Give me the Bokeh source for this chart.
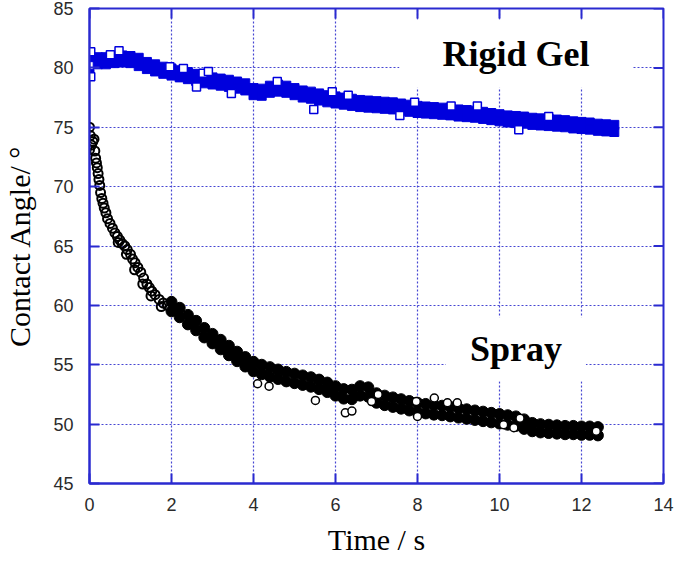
from bokeh.plotting import figure
from bokeh.models import Label, FixedTicker, ColumnDataSource
from bokeh.embed import file_html
from bokeh.resources import INLINE

# ---------------- data ----------------
x_ticks = [0, 2, 4, 6, 8, 10, 12, 14]
y_ticks = [45, 50, 55, 60, 65, 70, 75, 80, 85]

# Rigid Gel: dense band of squares (upper / lower edge of band centres)
gel_t = [0.0, 0.2, 0.4, 0.6, 0.8, 1.0, 1.2, 1.4, 1.6, 1.8, 2.0, 2.2, 2.4, 2.6, 2.8,
         3.0, 3.2, 3.4, 3.6, 3.8, 4.0, 4.2, 4.4, 4.6, 4.8, 5.0, 5.2, 5.4, 5.6, 5.8,
         6.0, 6.2, 6.4, 6.6, 6.8, 7.0, 7.2, 7.4, 7.6, 7.8, 8.0, 8.2, 8.4, 8.6, 8.8,
         9.0, 9.2, 9.4, 9.6, 9.8, 10.0, 10.2, 10.4, 10.6, 10.8, 11.0, 11.2, 11.4,
         11.6, 11.8, 12.0, 12.2, 12.4, 12.6, 12.8]
gel_hi = [80.9, 80.9, 80.9, 81.0, 81.05, 81.0, 80.85, 80.5, 80.3, 80.1, 79.95, 79.8,
          79.65, 79.5, 79.3, 79.2, 79.1, 79.0, 78.85, 78.7, 78.3, 78.25, 78.5, 78.6,
          78.5, 78.3, 78.1, 78.0, 77.85, 77.7, 77.6, 77.5, 77.4, 77.3, 77.25, 77.2,
          77.15, 77.1, 77.0, 76.9, 76.8, 76.75, 76.7, 76.65, 76.6, 76.5, 76.45, 76.4,
          76.3, 76.2, 76.1, 76.0, 75.95, 75.9, 75.8, 75.75, 75.7, 75.65, 75.6, 75.5,
          75.45, 75.4, 75.3, 75.25, 75.2]
gel_lo = [79.5, 80.3, 80.3, 80.4, 80.45, 80.4, 80.15, 79.9, 79.7, 79.5, 79.35, 79.2,
          79.05, 78.9, 78.7, 78.6, 78.5, 78.4, 78.25, 78.1, 77.7, 77.65, 77.9, 78.0,
          77.9, 77.7, 77.5, 77.4, 77.25, 77.1, 77.0, 76.9, 76.8, 76.7, 76.65, 76.6,
          76.55, 76.5, 76.4, 76.3, 76.2, 76.15, 76.1, 76.05, 76.0, 75.9, 75.85, 75.8,
          75.7, 75.6, 75.5, 75.4, 75.35, 75.3, 75.2, 75.15, 75.1, 75.05, 75.0, 74.9,
          74.85, 74.8, 74.7, 74.65, 74.6]
# Rigid Gel: loose squares around the band
gel_out_t = [0.03, 0.03, 0.51, 0.72, 1.96, 2.29, 2.61, 2.77, 2.9, 3.46, 4.58, 5.47,
             5.92, 6.31, 7.57, 7.93, 8.82, 9.46, 10.47, 11.2]
gel_out_a = [81.35, 79.25, 81.1, 81.45, 80.1, 79.95, 78.4, 79.55, 79.7, 77.85, 78.85,
             76.5, 78.0, 77.7, 76.0, 77.1, 76.8, 76.8, 74.8, 75.9]

# Spray: early, steep part (open circles)
spray_early_t = [0.0, 0.0, 0.02, 0.05, 0.08, 0.11, 0.13, 0.15, 0.17, 0.19, 0.21, 0.23,
                 0.25, 0.27, 0.3, 0.33, 0.36, 0.4, 0.44, 0.5, 0.56, 0.62, 0.68, 0.74,
                 0.8, 0.86, 0.92, 1.0, 1.05, 1.11, 1.18, 1.25, 1.32, 1.4, 1.46, 1.52,
                 1.6, 1.7, 1.8, 1.9, 0.7, 0.9, 1.1, 1.3, 1.5, 1.75]
spray_early_a = [75.0, 73.1, 74.3, 73.5, 73.8, 74.0, 73.0, 72.4, 72.0, 71.6, 71.1, 70.6,
                 70.1, 69.5, 69.0, 68.6, 68.2, 67.8, 67.3, 66.9, 66.5, 66.1, 65.8, 65.5,
                 65.2, 65.0, 64.7, 64.3, 63.9, 63.6, 63.2, 62.8, 62.3, 61.8, 61.5, 61.2,
                 60.9, 60.5, 60.2, 60.0, 65.3, 64.3, 63.0, 61.8, 60.8, 59.9]
# Spray: dense band (upper / lower edge of band centres)
spray_t = [2.0, 2.2, 2.4, 2.6, 2.8, 3.0, 3.2, 3.4, 3.6, 3.8, 4.0, 4.2, 4.4, 4.6, 4.8,
           5.0, 5.2, 5.4, 5.6, 5.8, 6.0, 6.2, 6.4, 6.6, 6.8, 7.0, 7.2, 7.4, 7.6, 7.8,
           8.0, 8.2, 8.4, 8.6, 8.8, 9.0, 9.2, 9.4, 9.6, 9.8, 10.0, 10.2, 10.4, 10.6,
           10.8, 11.0, 11.2, 11.4, 11.6, 11.8, 12.0, 12.2, 12.4]
spray_hi = [60.3, 59.8, 59.2, 58.7, 58.1, 57.6, 57.1, 56.6, 56.1, 55.65, 55.25, 55.0,
            54.8, 54.6, 54.4, 54.25, 54.1, 53.95, 53.75, 53.5, 53.2, 52.95, 52.9, 53.2,
            53.1, 52.6, 52.4, 52.25, 52.1, 51.95, 51.8, 51.7, 51.6, 51.55, 51.45, 51.35,
            51.25, 51.15, 51.05, 50.95, 50.85, 50.75, 50.65, 50.4, 50.1, 50.0, 49.95,
            49.9, 49.85, 49.85, 49.8, 49.8, 49.75]
spray_lo = [59.5, 59.0, 58.4, 57.9, 57.3, 56.8, 56.3, 55.8, 55.3, 54.85, 54.45, 54.2,
            54.0, 53.8, 53.6, 53.45, 53.3, 53.15, 52.95, 52.7, 52.4, 52.15, 52.1, 52.4,
            52.3, 51.8, 51.6, 51.45, 51.3, 51.15, 51.0, 50.9, 50.8, 50.75, 50.65, 50.55,
            50.45, 50.35, 50.25, 50.15, 50.05, 49.95, 49.85, 49.6, 49.4, 49.3, 49.25,
            49.2, 49.15, 49.15, 49.1, 49.1, 49.05]
# Spray: loose circles around the band
spray_out_t = [4.1, 4.38, 5.51, 6.24, 6.4, 6.88, 7.04, 7.97, 8.0, 8.41, 8.73, 8.97,
               10.1, 10.35, 10.5, 12.36]
spray_out_a = [53.4, 53.2, 52.0, 50.95, 51.1, 51.9, 52.5, 51.9, 50.65, 52.2, 51.8, 51.8,
               49.95, 49.7, 50.5, 49.4]

# ---------------- styling ----------------
BLUE_AX = "#2a2ad0"
BLUE_GRID = "#4646d2"
GEL_BLUE = "#0000dd"
X0, X1, Y0, Y1 = 0, 14, 45, 85

p = figure(width=674, height=562, x_range=(X0, X1), y_range=(Y0, Y1),
           output_backend="svg", toolbar_location=None,
           min_border_left=84, min_border_right=11, min_border_top=8,
           min_border_bottom=79)
p.background_fill_color = "white"
p.border_fill_color = "white"
p.outline_line_color = BLUE_AX
p.outline_line_width = 2

for ax in (p.xaxis[0], p.yaxis[0]):
    ax.axis_line_color = BLUE_AX
    ax.axis_line_width = 2
    ax.major_tick_line_color = BLUE_AX
    ax.major_tick_line_width = 2
    ax.major_tick_in = 10
    ax.major_tick_out = 0
    ax.minor_tick_line_color = None
    ax.major_label_text_font = "Liberation Sans"
    ax.major_label_text_font_size = "18px"
    ax.major_label_text_color = "#2b2b2b"
    ax.axis_label_text_font = "Liberation Serif"
    ax.axis_label_text_font_size = "30px"
    ax.axis_label_text_font_style = "normal"
    ax.axis_label_text_color = "black"

p.xaxis.ticker = FixedTicker(ticks=x_ticks)
p.yaxis.ticker = FixedTicker(ticks=y_ticks)
p.xaxis.axis_label = "Time / s"
p.yaxis.axis_label = "Contact Angle/ \u00b0"
p.xaxis.major_label_standoff = 14
p.xaxis.axis_label_standoff = 9
p.yaxis.major_label_standoff = 16
p.yaxis.axis_label_standoff = 14

p.xgrid.ticker = FixedTicker(ticks=x_ticks)
p.ygrid.ticker = FixedTicker(ticks=y_ticks)
for g in (p.xgrid[0], p.ygrid[0]):
    g.grid_line_color = BLUE_GRID
    g.grid_line_width = 1.2
    g.grid_line_dash = "2 2"

# inward tick marks on the top and right frame edges (10 px long)
TICK_DX = (X1 - X0) * 10 / 579
TICK_DY = (Y1 - Y0) * 10 / 475
p.segment(x0=[X1 - TICK_DX] * len(y_ticks), y0=y_ticks, x1=[X1] * len(y_ticks),
          y1=y_ticks, line_color=BLUE_AX, line_width=2)
p.segment(x0=x_ticks, y0=[Y1 - TICK_DY] * len(x_ticks), x1=x_ticks,
          y1=[Y1] * len(x_ticks), line_color=BLUE_AX, line_width=2)

# ---------------- glyphs ----------------
gel_band = ColumnDataSource(dict(t=gel_t + gel_t, a=gel_hi + gel_lo))
p.scatter("t", "a", source=gel_band, marker="square", size=9,
          fill_color=GEL_BLUE, line_color=GEL_BLUE, line_width=1)
p.scatter(gel_out_t, gel_out_a, marker="square", size=8, fill_color="white",
          line_color=GEL_BLUE, line_width=1.5)

spray_band = ColumnDataSource(dict(t=spray_t + spray_t, a=spray_hi + spray_lo))
p.scatter("t", "a", source=spray_band, marker="circle", size=11,
          fill_color="black", line_color="black", line_width=1)
p.scatter(spray_early_t, spray_early_a, marker="circle", size=9, fill_color=None,
          line_color="black", line_width=2)
p.scatter(spray_out_t, spray_out_a, marker="circle", size=8, fill_color="white",
          line_color="black", line_width=1.5)

# ---------------- labels ----------------
p.add_layout(Label(x=10.4, y=81.2, text="Rigid Gel", text_font="Liberation Serif",
                   text_font_size="36px", text_font_style="bold", text_color="black",
                   text_align="center", text_baseline="middle",
                   background_fill_color="white",
                   padding=dict(left=43, right=43, top=14, bottom=14)))
p.add_layout(Label(x=10.4, y=56.3, text="Spray", text_font="Liberation Serif",
                   text_font_size="36px", text_font_style="bold", text_color="black",
                   text_align="center", text_baseline="middle",
                   background_fill_color="white",
                   padding=dict(left=24, right=24, top=12, bottom=12)))

open("out.html", "w").write(file_html(p, INLINE))
